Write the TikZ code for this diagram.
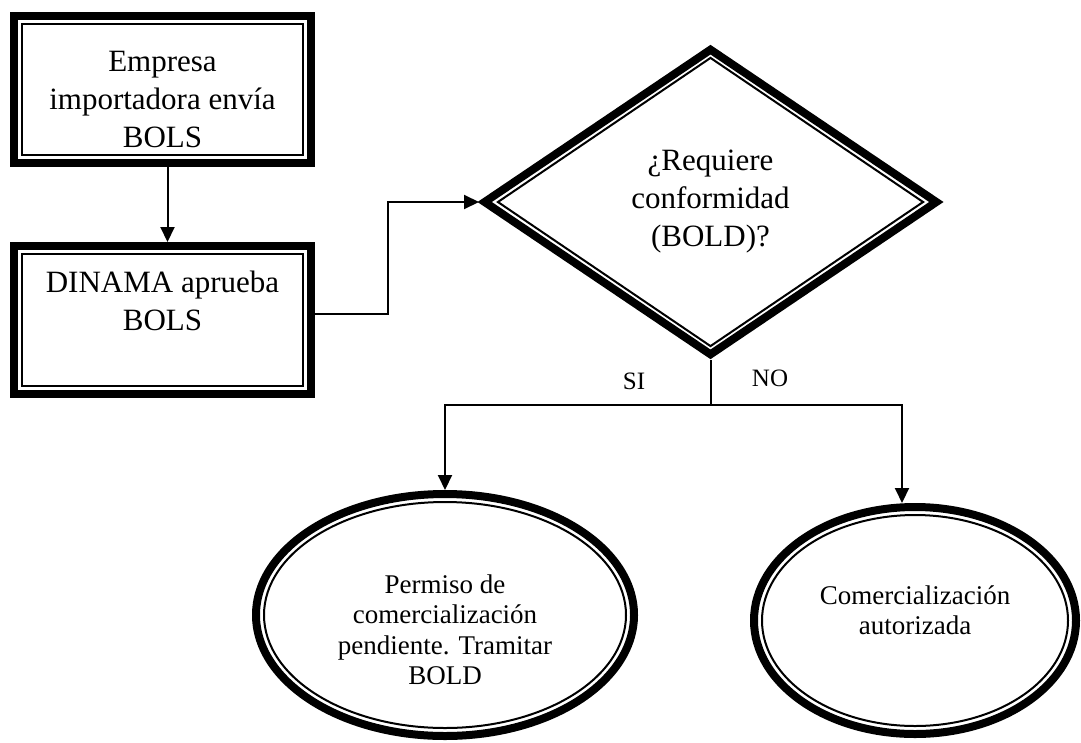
\documentclass[tikz,border=0pt]{standalone}
\usepackage{fontspec}
\setmainfont{Liberation Serif}
\usetikzlibrary{shapes.geometric,arrows.meta}

% text hung from the top of a shape
\newcommand{\toptext}[4]{\parbox[c][#1][t]{#2}{\centering\rule{0pt}{#3}#4}}

\begin{document}
\begin{tikzpicture}[x=1pt, y=-1pt,
  outerbox/.style={draw=black, line width=8pt, inner sep=0pt},
  innerline/.style={draw=black, line width=2pt, inner sep=0pt},
  conn/.style={line width=2pt},
  arr/.style={line width=2pt, -{Triangle[width=14pt,length=15pt]}},
  bigfont/.style={font=\fontsize{31}{38}\selectfont},
  smallfont/.style={font=\fontsize{27}{30.5}\selectfont},
  labelfont/.style={font=\fontsize{25}{30}\selectfont}]
\useasboundingbox (0,0) rectangle (1081,742);

% Boxes
\node[outerbox, bigfont, minimum width=297pt, minimum height=147pt] (b1) at (162.5,89.5)
  {\toptext{145pt}{280pt}{54pt}{Empresa\\importadora envía\\BOLS}};
\node[innerline, minimum width=281pt, minimum height=131pt] (b1in) at (b1) {};

\node[outerbox, bigfont, minimum width=297pt, minimum height=148pt] (b2) at (162.5,320)
  {\toptext{146pt}{280pt}{45pt}{DINAMA aprueba\\BOLS}};
\node[innerline, minimum width=281pt, minimum height=132pt] (b2in) at (b2) {};

% Decision
\node[outerbox, diamond, aspect=1.5, bigfont, align=center, minimum width=455pt, minimum height=308pt] (dia) at (710.5,202)
  {¿Requiere\\conformidad\\(BOLD)?};
\node[innerline, diamond, aspect=1.5, minimum width=426pt, minimum height=289pt] (diain) at (dia) {};

% Results
\node[outerbox, ellipse, smallfont, minimum width=378pt, minimum height=242pt] (e1) at (445,615)
  {\toptext{160pt}{240pt}{58pt}{Permiso de\\comercialización\\pendiente. Tramitar\\BOLD}};
\node[innerline, ellipse, minimum width=362pt, minimum height=226pt] (e1in) at (e1) {};

\node[outerbox, ellipse, smallfont, minimum width=322pt, minimum height=227pt] (e2) at (915,620.5)
  {\toptext{150pt}{215pt}{58.5pt}{Comercialización\\autorizada}};
\node[innerline, ellipse, minimum width=306pt, minimum height=211pt] (e2in) at (e2) {};

% Flow
\draw[arr] ([xshift=5pt]b1.south) -- ([xshift=5pt]b2.north);
\draw[arr] ([yshift=6pt]b2.east) -- ++(73,0) |- (dia.west);

% Branches
\coordinate (fork) at (dia.south |- 0,405);
\draw[conn] (dia.south) -- (fork);
\draw[arr] (fork) -| (e1);
\draw[arr] (fork) -| ([xshift=-13pt]e2.north);

\node[labelfont] (si) at (634,381) {SI};
\node[labelfont] (no) at (770,378) {NO};
\end{tikzpicture}
\end{document}
